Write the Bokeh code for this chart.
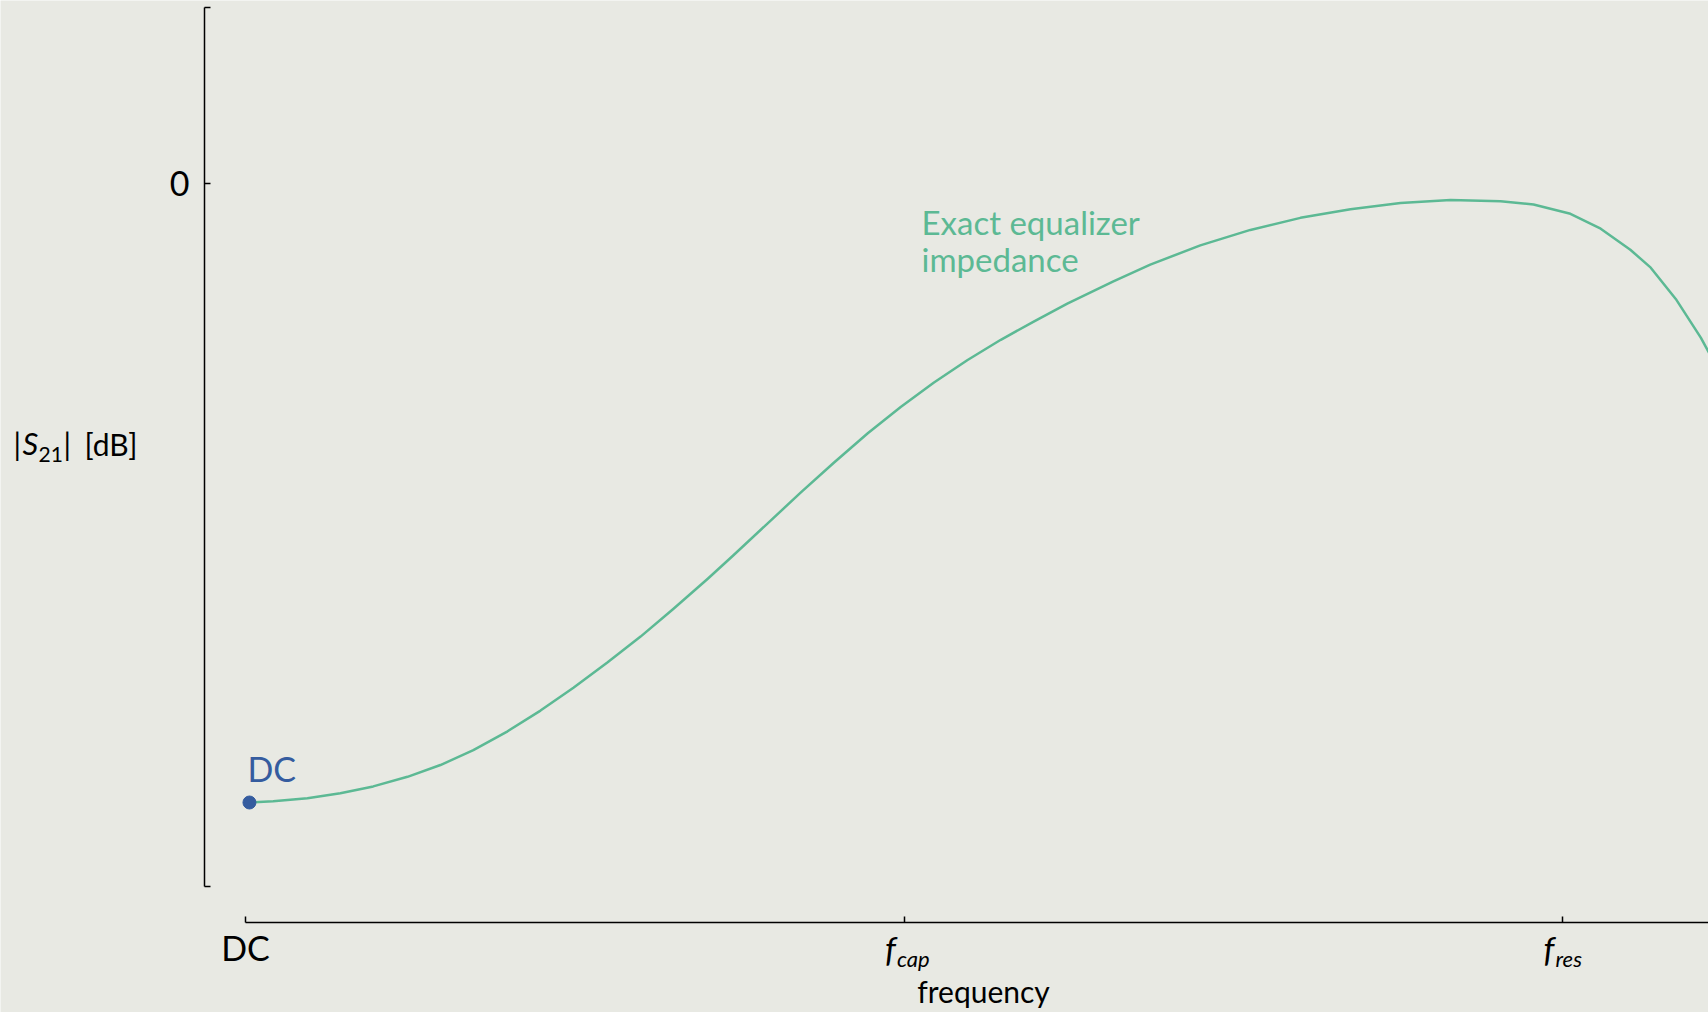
from bokeh.plotting import figure
from bokeh.models import Label, FixedTicker, CustomJSTickFormatter
from bokeh.embed import file_html
from bokeh.resources import INLINE

# ---------------- data ----------------
freq = [0.006, 0.042, 0.094, 0.144, 0.194, 0.246, 0.296, 0.346, 0.398, 0.448,
        0.498, 0.550, 0.600, 0.650, 0.702, 0.741, 0.793, 0.843, 0.893, 0.945,
        0.995, 1.045, 1.096, 1.147, 1.197, 1.248, 1.318, 1.374, 1.450, 1.526,
        1.602, 1.678, 1.754, 1.830, 1.906, 1.956, 2.012, 2.058, 2.103, 2.134,
        2.172, 2.210, 2.222, 2.240]
s21_db = [-20.00, -19.96, -19.86, -19.70, -19.48, -19.17, -18.79, -18.31,
          -17.70, -17.03, -16.29, -15.47, -14.64, -13.74, -12.77, -12.01,
          -10.98, -9.99, -9.03, -8.07, -7.22, -6.44, -5.71, -5.05, -4.46,
          -3.88, -3.16, -2.62, -2.00, -1.50, -1.11, -0.83, -0.63, -0.53,
          -0.57, -0.68, -0.98, -1.46, -2.14, -2.72, -3.73, -4.98, -5.45, -6.18]
dc_x = [freq[0]]
dc_y = [s21_db[0]]

x_ticks = [0, 1, 2]
x_tick_main = ["DC", "f", "f"]
x_tick_sub = ["", "cap", "res"]
y_ticks_labelled = [0]
y_tick_text = ["0"]

curve_label = ["Exact equalizer", "impedance"]
dc_label = "DC"
x_title = "frequency"
y_title_parts = ["|", "S", "21", "|", "[dB]"]

# ---------------- styling / layout ----------------
BG = "#e8e9e3"
GREEN = "#5cb994"
BLUE = "#355c9f"
FONT = "Lato"

W, H = 1708, 1012
PX0, PX_PER_X = 245.0, 658.5      # screen x of x=0 and pixels per x unit
PY0, PX_PER_DB = 183.0, 30.95     # screen y of 0 dB and pixels per dB


def xd(px):
    return (px - PX0) / PX_PER_X


def yd(py):
    return (PY0 - py) / PX_PER_DB


x_lo, x_hi = xd(0), xd(W)
y_lo, y_hi = yd(H), yd(0)

p = figure(width=W, height=H, x_range=(x_lo, x_hi), y_range=(y_lo, y_hi),
           toolbar_location=None, output_backend="svg",
           min_border=0, min_border_left=0, min_border_right=0,
           min_border_top=0, min_border_bottom=0)
p.background_fill_color = BG
p.border_fill_color = BG
p.outline_line_color = None
p.xgrid.visible = False
p.ygrid.visible = False

# x axis (spine offset below the data)
xa = p.xaxis[0]
xa.fixed_location = yd(922)
xa.ticker = FixedTicker(ticks=x_ticks)
xa.formatter = CustomJSTickFormatter(
    args=dict(labels=[m if s == "" else "" for m, s in zip(x_tick_main, x_tick_sub)]),
    code="return labels[index];")
xa.bounds = (x_ticks[0], x_hi + 1)
xa.major_tick_in = 6
xa.major_tick_out = 0
xa.minor_tick_line_color = None
xa.axis_line_width = 1.5
xa.axis_line_color = "black"
xa.major_tick_line_width = 1.5
xa.major_tick_line_color = "black"
xa.major_label_text_font = FONT
xa.major_label_text_font_size = "34px"
xa.major_label_text_color = "black"
xa.major_label_standoff = 4

# y axis (spine offset left of the data)
ya = p.yaxis[0]
ya.fixed_location = xd(204)
y_top, y_bot = yd(7), yd(886)
ya.ticker = FixedTicker(ticks=[y_bot] + y_ticks_labelled + [y_top])
ya.formatter = CustomJSTickFormatter(args=dict(labels=[""] + y_tick_text + [""]),
                                     code="return labels[index];")
ya.bounds = (y_bot, y_top)
ya.major_tick_in = 6
ya.major_tick_out = 0
ya.minor_tick_line_color = None
ya.axis_line_width = 1.5
ya.axis_line_color = "black"
ya.major_tick_line_width = 1.5
ya.major_tick_line_color = "black"
ya.major_label_text_font = FONT
ya.major_label_text_font_size = "34px"
ya.major_label_text_color = "black"
ya.major_label_standoff = 15

# data
p.line(freq, s21_db, line_color=GREEN, line_width=2.5, line_join="round")
p.scatter(dc_x, dc_y, size=13, fill_color=BLUE, line_color=BLUE)


def lab(x, base_py, text, size_px, style="normal", color="black", align="left", x_offset=0):
    # base_py: wanted screen row of the text baseline; the label is lifted to compensate
    # for how the renderer places an alphabetic baseline
    y = yd(base_py - 0.4 * size_px)
    p.add_layout(Label(x=x, y=y, x_offset=x_offset, text=text, text_font=FONT,
                       text_font_size=f"{size_px}px", text_font_style=style,
                       text_color=color, text_align=align, text_baseline="alphabetic"))


# x tick labels with subscripts (f_cap, f_res)
for t, m, s in zip(x_ticks, x_tick_main, x_tick_sub):
    if s == "":
        continue
    lab(t, 962, m, 34, "italic", x_offset=-19)
    lab(t, 967, s, 22, "italic", x_offset=-7)

# x axis title
lab(xd(983), 1002, x_title, 30, align="center")

# y axis title |S21| [dB]
y_parts_px = [(13, 455, 30, "normal"), (22, 455, 31, "italic"),
              (38, 462, 21, "normal"), (63, 455, 30, "normal"),
              (84, 455, 30, "normal")]
for txt, (px, py, fs, st) in zip(y_title_parts, y_parts_px):
    lab(xd(px), py, txt, fs, st)

# annotations
lab(dc_x[0], 782, dc_label, 34, color=BLUE, x_offset=-2)
for i, line in enumerate(curve_label):
    lab(xd(921), 235 + 37 * i, line, 33, color=GREEN)

open("out.html", "w").write(file_html(p, INLINE))
